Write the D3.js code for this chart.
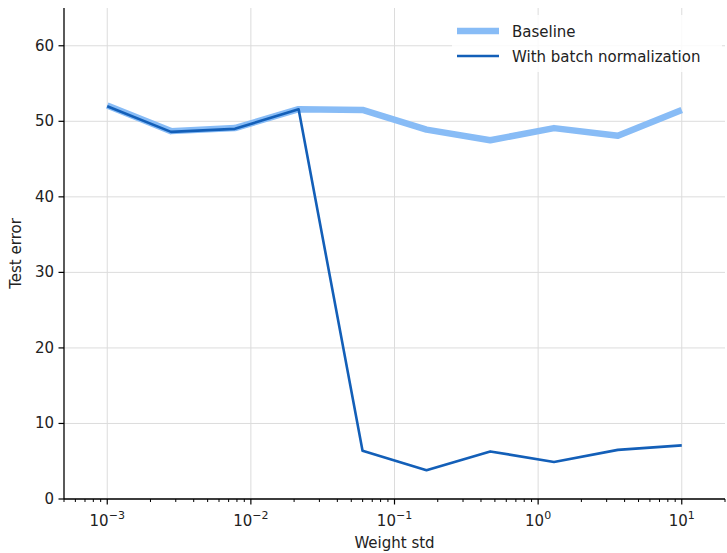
<!DOCTYPE html>
<html>
<head>
<meta charset="utf-8">
<script src="https://cdn.jsdelivr.net/npm/d3@7"></script>
<style>
  body { margin: 0; background: #fff; }
  text { font-family: "DejaVu Sans", sans-serif; fill: #222; }
</style>
</head>
<body>
<div id="chart"></div>
<script>

// weight std values (log spaced)
var weightStd = [0.001, 0.00278, 0.00774, 0.0215, 0.0599, 0.167, 0.464, 1.29, 3.59, 10];
var baseline = [52.1, 48.7, 49.1, 51.6, 51.5, 48.9, 47.5, 49.1, 48.1, 51.5];
var batchNorm = [52.0, 48.6, 49.0, 51.6, 6.4, 3.8, 6.3, 4.9, 6.5, 7.1];
var yTicks = [0, 10, 20, 30, 40, 50, 60];
var xTicks = [1e-3, 1e-2, 1e-1, 1e0, 1e1];
var xTickLabels = ["\u22123", "\u22122", "\u22121", "0", "1"];
var seriesNames = ["Baseline", "With batch normalization"];

var width = 727, height = 553;
var margin = {top: 8, right: 2, bottom: 54, left: 64};
var w = width - margin.left - margin.right;
var h = height - margin.top - margin.bottom;

var svg = d3.select("#chart").append("svg")
    .attr("width", width)
    .attr("height", height);

var g = svg.append("g")
    .attr("transform", "translate(" + margin.left + "," + margin.top + ")");

var x = d3.scaleLog().domain([5e-4, 20]).range([0, w]);
var y = d3.scaleLinear().domain([0, 65]).range([h, 0]);

// grid
g.append("g").selectAll("line")
    .data(yTicks).enter().append("line")
    .attr("x1", 0).attr("x2", w)
    .attr("y1", function(d) { return y(d); })
    .attr("y2", function(d) { return y(d); })
    .attr("stroke", "#dcdcdc").attr("stroke-width", 1);

g.append("g").selectAll("line")
    .data(xTicks).enter().append("line")
    .attr("y1", 0).attr("y2", h)
    .attr("x1", function(d) { return x(d); })
    .attr("x2", function(d) { return x(d); })
    .attr("stroke", "#dcdcdc").attr("stroke-width", 1);

// lines
var line = function(vals) {
    return d3.line()
        .x(function(d, i) { return x(weightStd[i]); })
        .y(function(d) { return y(d); })(vals);
};

g.append("path")
    .attr("d", line(baseline))
    .attr("fill", "none")
    .attr("stroke", "#88bcf6")
    .attr("stroke-width", 6.5)
    .attr("stroke-linejoin", "round");

g.append("path")
    .attr("d", line(batchNorm))
    .attr("fill", "none")
    .attr("stroke", "#135fb8")
    .attr("stroke-width", 2.6)
    .attr("stroke-linejoin", "round");

// x axis
var minor = [];
for (var e = -4; e <= 1; e++) {
    for (var k = 2; k <= 9; k++) {
        var v = k * Math.pow(10, e);
        if (v >= 5e-4 && v <= 20) minor.push(v);
    }
}

var xAxis = g.append("g").attr("transform", "translate(0," + h + ")");
xAxis.append("line")
    .attr("x1", 0).attr("x2", w)
    .attr("stroke", "#000").attr("stroke-width", 1.3);
xAxis.selectAll(".minor").data(minor).enter().append("line")
    .attr("x1", function(d) { return x(d); })
    .attr("x2", function(d) { return x(d); })
    .attr("y1", 0).attr("y2", 3)
    .attr("stroke", "#000").attr("stroke-width", 1);
xAxis.selectAll(".major").data(xTicks).enter().append("line")
    .attr("x1", function(d) { return x(d); })
    .attr("x2", function(d) { return x(d); })
    .attr("y1", 0).attr("y2", 5.5)
    .attr("stroke", "#000").attr("stroke-width", 1.2);

var lbl = xAxis.selectAll(".lbl").data(xTicks).enter().append("text")
    .attr("x", function(d) { return x(d); })
    .attr("y", 27)
    .attr("text-anchor", "middle")
    .attr("font-size", 15);
lbl.append("tspan").text("10");
lbl.append("tspan")
    .attr("dy", -7)
    .attr("font-size", 11)
    .text(function(d, i) { return xTickLabels[i]; });

// y axis
var yAxis = g.append("g");
yAxis.append("line")
    .attr("y1", 0).attr("y2", h)
    .attr("stroke", "#000").attr("stroke-width", 1.3);
yAxis.selectAll(".tick").data(yTicks).enter().append("line")
    .attr("x1", -5.5).attr("x2", 0)
    .attr("y1", function(d) { return y(d); })
    .attr("y2", function(d) { return y(d); })
    .attr("stroke", "#000").attr("stroke-width", 1.2);
yAxis.selectAll("text").data(yTicks).enter().append("text")
    .attr("x", -10)
    .attr("y", function(d) { return y(d) + 5; })
    .attr("text-anchor", "end")
    .attr("font-size", 15)
    .text(function(d) { return d; });

// axis titles
svg.append("text")
    .attr("x", margin.left + w / 2)
    .attr("y", 548)
    .attr("text-anchor", "middle")
    .attr("font-size", 15)
    .text("Weight std");

svg.append("text")
    .attr("transform", "translate(21," + (margin.top + h / 2) + ") rotate(-90)")
    .attr("text-anchor", "middle")
    .attr("font-size", 15)
    .text("Test error");

// legend
var legend = svg.append("g");
legend.append("rect")
    .attr("x", 452).attr("y", 15)
    .attr("width", 270).attr("height", 57)
    .attr("fill", "#fff").attr("fill-opacity", 0.85);

var colors = ["#88bcf6", "#135fb8"];
var widths = [6.5, 2.6];
seriesNames.forEach(function(name, i) {
    var yy = 31 + i * 25;
    legend.append("line")
        .attr("x1", 457).attr("x2", 499)
        .attr("y1", yy).attr("y2", yy)
        .attr("stroke", colors[i])
        .attr("stroke-width", widths[i]);
    legend.append("text")
        .attr("x", 512).attr("y", yy + 5.5)
        .attr("font-size", 15)
        .text(name);
});

</script>
</body>
</html>
